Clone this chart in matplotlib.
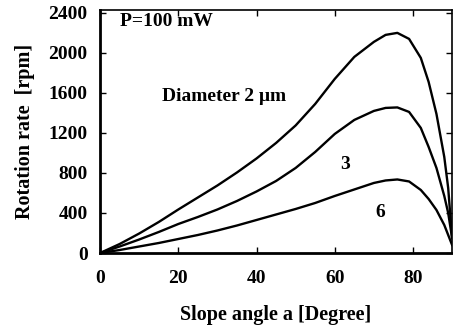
import matplotlib
matplotlib.use("Agg")
import matplotlib.pyplot as plt

# Data
angle = [0, 5, 10, 15, 20, 25, 30, 35, 40, 45, 50, 55, 60, 65, 70, 73, 76, 79, 82, 84, 86, 88, 89, 90]
rpm_d2 = [0, 90, 195, 310, 435, 555, 675, 805, 945, 1100, 1275, 1490, 1740, 1960, 2110, 2180, 2200, 2140, 1950, 1710, 1390, 960, 650, 150]
rpm_d3 = [0, 65, 135, 210, 290, 360, 435, 520, 615, 720, 850, 1010, 1190, 1330, 1420, 1450, 1455, 1410, 1250, 1060, 850, 570, 400, 150]
rpm_d6 = [0, 30, 65, 100, 140, 180, 225, 275, 330, 385, 440, 500, 570, 635, 700, 725, 735, 715, 630, 540, 430, 280, 180, 80]

xticks = [0, 20, 40, 60, 80]
yticks = [0, 400, 800, 1200, 1600, 2000, 2400]

plt.rcParams['font.family'] = ['Liberation Serif', 'DejaVu Serif']

fig = plt.figure(figsize=(4.53, 3.29), dpi=100)
ax = fig.add_axes([0.221, 0.231, 0.777, 0.739])

for ys in (rpm_d2, rpm_d3, rpm_d6):
    ax.plot(angle, ys, color='black', lw=1.7, solid_joinstyle='round')

ax.set_xlim(0, 90)
ax.set_ylim(0, 2430)
ax.set_xticks(xticks)
ax.set_yticks(yticks)
ax.tick_params(direction='in', top=True, right=True, length=4, width=1.0,
               labelsize=14)
ax.tick_params(axis='x', pad=12)
ax.tick_params(axis='y', pad=9)
for lab in ax.get_xticklabels() + ax.get_yticklabels():
    lab.set_fontweight('bold')
for side in ('left', 'bottom'):
    ax.spines[side].set_linewidth(2.0)
for side in ('top', 'right'):
    ax.spines[side].set_linewidth(1.2)

fw = 'bold'
ax.text(5, 2310, 'P=100 mW', fontsize=14, va='center', ha='left', fontweight=fw)
ax.text(15.9, 1560, 'Diameter 2 \u03bcm', fontsize=14, va='center', ha='left', fontweight=fw)
ax.text(62.6, 880, '3', fontsize=14, va='center', ha='center', fontweight=fw)
ax.text(71.6, 400, '6', fontsize=14, va='center', ha='center', fontweight=fw)

ax.set_xlabel('Slope angle a [Degree]', fontsize=14.5, labelpad=13, fontweight=fw)
ax.set_ylabel('Rotation rate  [rpm]', fontsize=14.5, labelpad=10, fontweight=fw)

fig.savefig('out.png', dpi=100)
